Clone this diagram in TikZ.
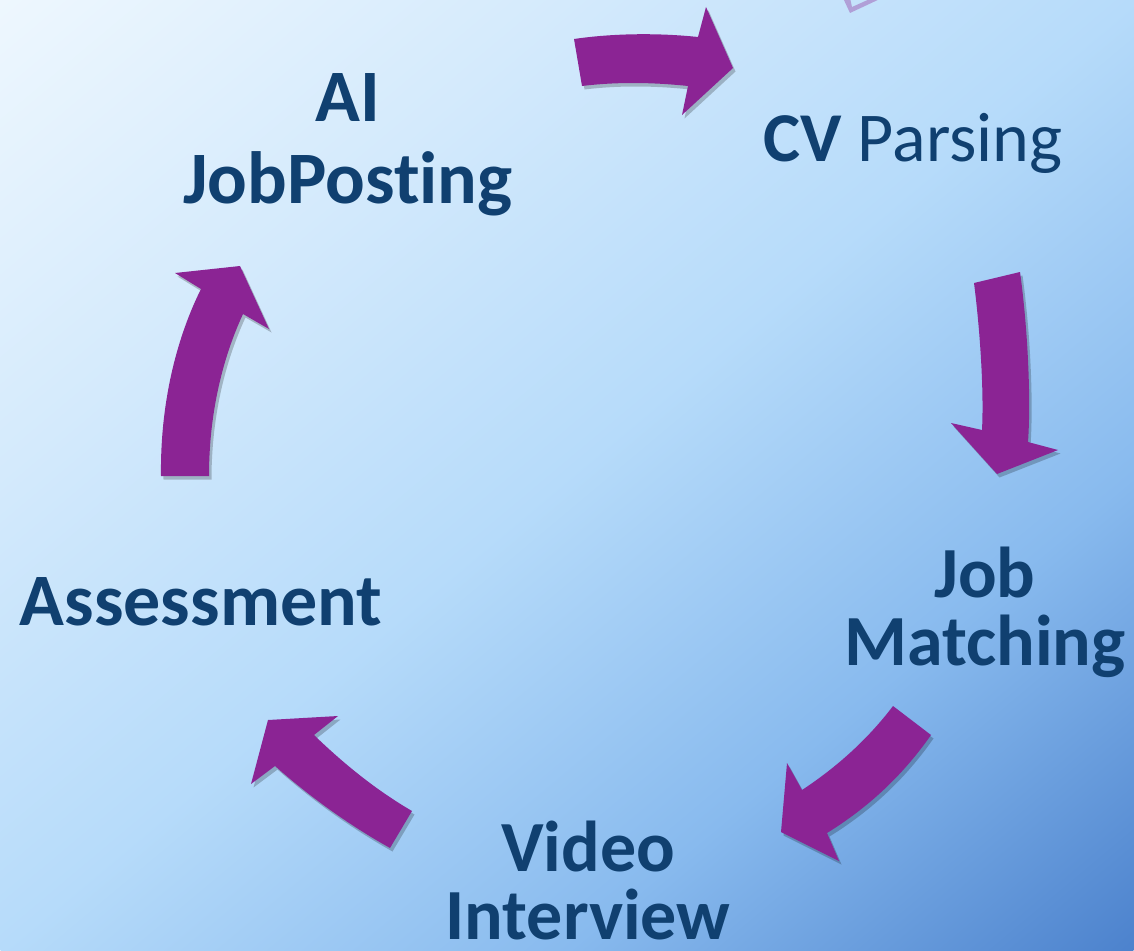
\documentclass[tikz,border=0pt]{standalone}
\usepackage{fontspec}
\setmainfont{Carlito}[Ligatures={NoCommon}]
\definecolor{bgA}{RGB}{238,247,254}
\definecolor{bgB}{RGB}{212,234,252}
\definecolor{bgC}{RGB}{182,219,250}
\definecolor{bgD}{RGB}{136,186,238}
\definecolor{bgE}{RGB}{76,130,205}
\definecolor{arrowpurple}{RGB}{139,36,148}
\definecolor{labelblue}{RGB}{16,64,112}
\pgfdeclarehorizontalshading{bgshade}{100bp}{color(0bp)=(bgA); color(25bp)=(bgA); color(37.5bp)=(bgB); color(50bp)=(bgC); color(62.5bp)=(bgD); color(75bp)=(bgE); color(100bp)=(bgE)}
\tikzset{
  lbl/.style={text=labelblue, inner sep=0pt, align=center},
  blockarrow/.style={fill=arrowpurple},
  arrowshadow/.style={fill=black, opacity=0.22},
  arrowA/.style={insert path={(574,39) .. controls (615,33) and (660,33) .. (698,37) -- (706,7) -- (733,68) -- (682,115) -- (688,86) .. controls (650,82) and (615,82) .. (582,86) -- cycle}},
  arrowB/.style={insert path={(974,283) -- (1020,272) .. controls (1028,330) and (1031,400) .. (1028,442) -- (1058,450) -- (997,474) -- (951,423) -- (982,430) .. controls (984,390) and (980,330) .. (974,283) -- cycle}},
  arrowC/.style={insert path={(893,706) -- (931,735) .. controls (903,775) and (869,807) .. (827,833) -- (839,861) -- (781,832) -- (787,763) -- (802,790) .. controls (837,767) and (868,739) .. (893,706) -- cycle}},
  arrowD/.style={insert path={(412,811) -- (390,848) .. controls (349,825) and (310,797) .. (275,766) -- (251,784) -- (268,720) -- (338,716) -- (314,735) .. controls (344,764) and (376,790) .. (412,811) -- cycle}},
  arrowE/.style={insert path={(161,476) .. controls (160,400) and (178,335) .. (201,289) -- (175,273) -- (240,266) -- (269,329) -- (243,314) .. controls (224,355) and (209,410) .. (209,476) -- cycle}}
}
\begin{document}
\begin{tikzpicture}[x=1pt,y=-1pt]
\useasboundingbox (0,0) rectangle (1134,950);
\begin{scope}
  \clip (0,0) rectangle (1134,950);
  \shade[shading=bgshade, transform canvas={shift={(567,475)}, rotate=-50.05}] (-728.25,-739.5) rectangle (728.25,739.5);
  % faint shape at the top edge
  \fill[arrowpurple, opacity=0.35] (843,-2) -- (850,13) -- (882,-2) -- (872,-2) -- (852,7) -- (850,-2) -- cycle;
  % shadows
  \foreach \s in {arrowA,arrowB,arrowC,arrowD,arrowE}{
    \fill[arrowshadow, shift={(2.5,3.5)}, \s];
  }
  % block arrows
  \foreach \s in {arrowA,arrowB,arrowC,arrowD,arrowE}{
    \fill[blockarrow, \s];
  }
\end{scope}
\node[lbl, font=\bfseries\fontsize{74}{82}\selectfont] (ai) at (348,145) {AI\\JobPosting};
\node[lbl, anchor=base, font=\fontsize{70}{76}\selectfont] (cv) at (913,161) {\textbf{CV} Parsing};
\node[lbl, font=\bfseries\fontsize{72}{68}\selectfont] (jm) at (985,612) {Job\\Matching};
\node[lbl, font=\bfseries\fontsize{72}{68}\selectfont] (vi) at (588,880) {Video\\Interview};
\node[lbl, anchor=base, font=\bfseries\fontsize{74}{82}\selectfont] (as) at (201,625) {Assessment};
\end{tikzpicture}
\end{document}
